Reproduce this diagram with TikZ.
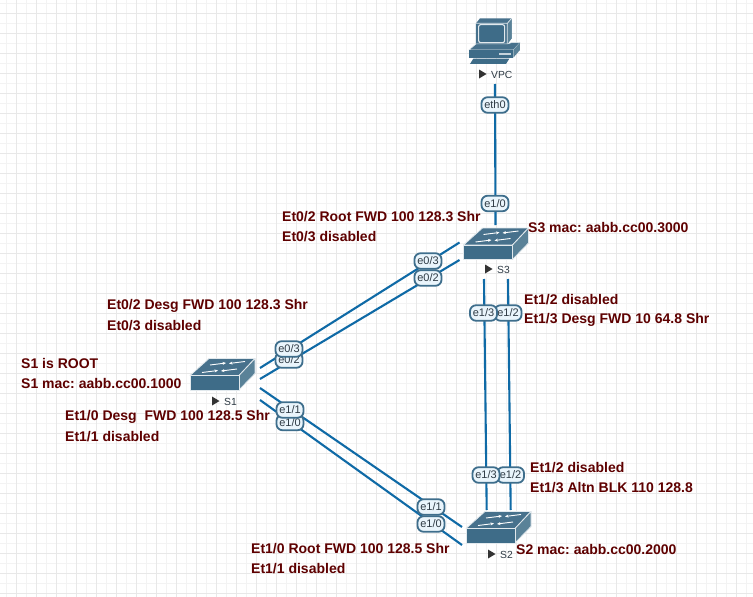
\documentclass[tikz,border=0pt]{standalone}
\usepackage{fontspec}
\setmainfont{Liberation Sans}
\usetikzlibrary{arrows.meta}
\frenchspacing
\definecolor{gridA}{HTML}{E8E8E8}
\definecolor{gridB}{HTML}{F3F3F3}
\definecolor{linkc}{HTML}{0F6AA6}
\definecolor{lblfill}{HTML}{EAF5FC}
\definecolor{lbledge}{HTML}{3E6E8C}
\definecolor{lbltext}{HTML}{2E3A44}
\definecolor{notec}{HTML}{5E0000}
\definecolor{swtop}{HTML}{47718C}
\definecolor{swfront}{HTML}{3E6C88}
\definecolor{swside}{HTML}{5A8298}
\tikzset{
  x=1pt,y=-1pt,
  link/.style={draw=linkc,line width=2.1pt},
  port/.style={draw=lbledge,line width=1.8pt,fill=lblfill,rounded corners=6pt,text=lbltext,
     font=\fontsize{11}{12}\selectfont,minimum width=27pt,minimum height=15.5pt,inner sep=0pt},
  note/.style={anchor=west,inner sep=0pt,text=notec,font=\fontsize{14}{14}\selectfont\bfseries},
  devname/.style={anchor=west,inner sep=0pt,text=lbltext,font=\fontsize{10.3}{12}\selectfont},
  tri/.style={fill=black!80},
  swedge/.style={draw=white!85!swfront,line width=0.8pt,line join=round},
  swarrow/.style={draw=white,line width=0.9pt,-{Stealth[length=3.5pt,width=3pt]}},
}
\newcommand{\switchicon}[4]{% name, left x, front top y, height scale
  \begin{scope}[shift={(#2,#3)}]
    \fill[swtop,swedge] (0,0) -- (19,-17) -- (65,-17) -- (49,0) -- cycle;
    \fill[swside,swedge] (49,0) -- (65,-17) -- (65,-2) -- (49,14.5) -- cycle;
    \fill[swfront,swedge] (0,0) rectangle (49,14.5);
    \draw[swarrow] (20,-10.5) -- (36,-12.5);
    \draw[swarrow] (55,-14) -- (39,-12);
    \draw[swarrow] (47,-6.5) -- (31,-4.5);
    \draw[swarrow] (12,-3) -- (28,-5);
    \coordinate (#1) at (24,0);
  \end{scope}}
\begin{document}
\begin{tikzpicture}
\useasboundingbox (0,0) rectangle (753,597);
\fill[white] (0,0) rectangle (753,597);
% grid
\foreach \k in {0,...,37}{\draw[gridB,line width=0.9pt] (6.5+\k*20,0) -- (6.5+\k*20,597);}
\foreach \k in {0,...,29}{\draw[gridB,line width=0.9pt] (0,3+\k*20) -- (753,3+\k*20);}
\foreach \k in {0,...,36}{\draw[gridA,line width=1pt] (16.5+\k*20,0) -- (16.5+\k*20,597);}
\foreach \k in {0,...,29}{\draw[gridA,line width=1pt] (0,13+\k*20) -- (753,13+\k*20);}
% connector end points
\coordinate (vpcEnd) at (495,84);
\coordinate (s3Top) at (495.5,225);
\coordinate (s3a) at (459.5,242.5);
\coordinate (s3b) at (459.5,260);
\coordinate (s1a) at (260,368);
\coordinate (s1b) at (260,379);
\coordinate (s1c) at (260,388);
\coordinate (s1d) at (260,400);
\coordinate (s2c) at (462,527);
\coordinate (s2d) at (462,545);
\coordinate (s3c) at (484,279);
\coordinate (s3d) at (508,279);
\coordinate (s2a) at (486.7,510);
\coordinate (s2b) at (510.7,510);
% connectors
\draw[link] (vpcEnd) -- (s3Top);
\draw[link] (s3a) -- (s1a);
\draw[link] (s3b) -- (s1b);
\draw[link] (s1c) -- (s2c);
\draw[link] (s1d) -- (s2d);
\draw[link] (s3c) -- (s2a);
\draw[link] (s3d) -- (s2b);
% port labels
\node[port] (pEth) at (495,105) {eth0};
\node[port] (pS3up) at (495,203.5) {e1/0};
\node[port] (pS3b) at (428,278) {e0/2};
\node[port] (pS3a) at (428,261) {e0/3};
\node[port] (pS1b) at (289,360) {e0/2};
\node[port] (pS1a) at (289,349) {e0/3};
\node[port] (pS1d) at (290,422.5) {e1/0};
\node[port] (pS1c) at (290,410) {e1/1};
\node[port] (pS2c) at (431,507) {e1/1};
\node[port] (pS2d) at (431,524) {e1/0};
\node[port] (pS3d) at (508,313) {e1/2};
\node[port] (pS3c) at (483.5,313) {e1/3};
\node[port] (pS2b) at (510.5,475) {e1/2};
\node[port] (pS2a) at (486,475) {e1/3};
% VPC icon
\begin{scope}[shift={(430,0)},x=0.3333pt,y=-0.3333pt]
  \fill[swtop] (138,70) -- (150,55) -- (245,55) -- (245,115) -- (232,132) -- (138,132) -- cycle;
  \fill[swside] (232,70) -- (245,55) -- (245,115) -- (232,132) -- cycle;
  \draw[white!85!swfront,line width=0.7pt] (138,70) -- (232,70) -- (245,55) (232,70) -- (232,132);
  \draw[white!85!swfront,line width=1.1pt,rounded corners=2pt,fill=swfront] (146,74) rectangle (224,128);
  \fill[swtop,draw=white!85!swfront,line width=0.5pt] (138,132) -- (232,132) -- (245,128) -- (270,128) -- (250,150) -- (117,150) -- cycle;
  \fill[swfront] (117,150) rectangle (250,173);
  \fill[swside] (250,150) -- (270,128) -- (270,150) -- (250,173) -- cycle;
  \fill[white!70!swfront] (208,158) rectangle (243,164);
  \fill[swfront] (130,176) -- (238,176) -- (228,192) -- (120,192) -- cycle;
\end{scope}
\fill[tri] (479,69.5) -- (486.5,74) -- (479,78.5) -- cycle;
\node[devname] (nVPC) at (491,74.5) {VPC};
% switches
\switchicon{iS3}{463.5}{245}{1}
\fill[tri] (485,264.5) -- (492.5,269) -- (485,273.5) -- cycle;
\node[devname] (nS3) at (497,269.5) {S3};
\switchicon{iS1}{190}{375.5}{1}
\fill[tri] (212,396.5) -- (219.5,401) -- (212,405.5) -- cycle;
\node[devname] (nS1) at (224,401.5) {S1};
\switchicon{iS2}{466}{528.5}{1}
\fill[tri] (488,549.5) -- (495.5,554) -- (488,558.5) -- cycle;
\node[devname] (nS2) at (500,555) {S2};
% notes
\node[note] (t1) at (282,217) {Et0/2 Root FWD 100 128.3 Shr};
\node[note] (t2) at (282,236.5) {Et0/3 disabled};
\node[note] (t3) at (528,228) {S3 mac: aabb.cc00.3000};
\node[note] (t4) at (524,300) {Et1/2 disabled};
\node[note] (t5) at (524,320) {Et1/3 Desg FWD 10 64.8 Shr};
\node[note] (t6) at (107,306) {Et0/2 Desg FWD 100 128.3 Shr};
\node[note] (t7) at (107,326) {Et0/3 disabled};
\node[note] (t8) at (21,363) {S1 is ROOT};
\node[note] (t9) at (21,383) {S1 mac: aabb.cc00.1000};
\node[note] (t10) at (65,417) {Et1/0 Desg\ \ FWD 100 128.5 Shr};
\node[note] (t11) at (65,437) {Et1/1 disabled};
\node[note] (t12) at (530,468) {Et1/2 disabled};
\node[note] (t13) at (530,488) {Et1/3 Altn BLK 110 128.8};
\node[note] (t14) at (251,549) {Et1/0 Root FWD 100 128.5 Shr};
\node[note] (t15) at (251,569) {Et1/1 disabled};
\node[note] (t16) at (516,549) {S2 mac: aabb.cc00.2000};
\end{tikzpicture}
\end{document}
